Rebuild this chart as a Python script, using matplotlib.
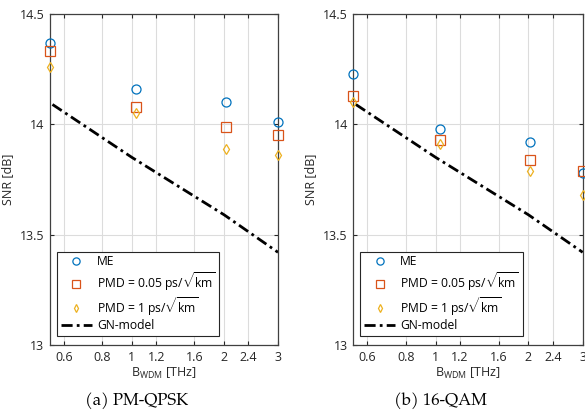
import matplotlib
matplotlib.use("Agg")
import matplotlib.pyplot as plt
from matplotlib.ticker import FixedLocator, NullLocator, FixedFormatter

plt.rcParams['font.family'] = ['Open Sans', 'DejaVu Sans']
plt.rcParams['mathtext.fontset'] = 'custom'
plt.rcParams['mathtext.rm'] = 'Open Sans'

# Data
x_bw = [0.54, 1.03, 2.03, 3.0]
qpsk_me = [14.37, 14.16, 14.10, 14.01]
qpsk_pmd005 = [14.33, 14.08, 13.99, 13.95]
qpsk_pmd1 = [14.26, 14.05, 13.89, 13.86]
qam_me = [14.23, 13.98, 13.92, 13.78]
qam_pmd005 = [14.13, 13.93, 13.84, 13.79]
qam_pmd1 = [14.10, 13.91, 13.79, 13.68]
gn_x = [0.55, 1.0, 2.0, 3.0]
gn_qpsk = [14.09, 13.85, 13.59, 13.42]
gn_qam = [14.09, 13.85, 13.59, 13.42]
xticks = [0.6, 0.8, 1, 1.2, 1.6, 2, 2.4, 3]
xticklabels = ['0.6', '0.8', '1', '1.2', '1.6', '2', '2.4', '3']
yticks = [13, 13.5, 14, 14.5]
yticklabels = ['13', '13.5', '14', '14.5']
captions = ['(a) PM-QPSK', '(b) 16-QAM']

c_me = '#0072BD'
c_sq = '#D95319'
c_di = '#EDB120'

fig = plt.figure(figsize=(5.85, 4.15), dpi=100)
ax1 = fig.add_axes([0.0855, 0.1687, 0.3897, 0.7976])
ax2 = fig.add_axes([0.604, 0.1687, 0.392, 0.7976])

panels = [(ax1, qpsk_me, qpsk_pmd005, qpsk_pmd1, gn_qpsk),
          (ax2, qam_me, qam_pmd005, qam_pmd1, gn_qam)]

for i, (ax, me, p005, p1, gn) in enumerate(panels):
    ax.set_xscale('log')
    ax.plot(x_bw, me, linestyle='none', marker='o', ms=6.5, mfc='none',
            mec=c_me, mew=0.9, label='ME', clip_on=False, zorder=4)
    ax.plot(x_bw, p005, linestyle='none', marker='s', ms=6.5, mfc='none',
            mec=c_sq, mew=0.9, label=r'PMD = 0.05 ps/$\sqrt{\mathrm{km}}$',
            clip_on=False, zorder=4)
    ax.plot(x_bw, p1, linestyle='none', marker='d', ms=5, mfc='none',
            mec=c_di, mew=0.9, label=r'PMD = 1 ps/$\sqrt{\mathrm{km}}$',
            clip_on=False, zorder=4)
    ax.plot(gn_x, gn, color='black', lw=2.0, linestyle=(0, (4, 1.5, 1, 1.5)),
            label='GN-model', zorder=3)
    ax.set_xlim(0.54, 3.0)
    ax.set_ylim(13, 14.5)
    ax.xaxis.set_major_locator(FixedLocator(xticks))
    ax.xaxis.set_major_formatter(FixedFormatter(xticklabels))
    ax.xaxis.set_minor_locator(NullLocator())
    ax.set_yticks(yticks)
    ax.set_yticklabels(yticklabels)
    ax.grid(True, color='#dcdcdc', lw=0.8)
    ax.set_axisbelow(True)
    for s in ax.spines.values():
        s.set_color('#404040')
        s.set_linewidth(0.9)
    ax.tick_params(direction='in', length=3, labelsize=9, colors='#262626',
                   top=True, right=True, pad=4)
    ax.set_xlabel(r'B$_{\mathrm{WDM}}$ [THz]', fontsize=9, color='#262626', labelpad=2)
    ax.set_ylabel('SNR [dB]', fontsize=9, color='#262626', labelpad=4)
    leg = ax.legend(loc='lower left', bbox_to_anchor=(0.02, 0.02), fontsize=8.7,
                    frameon=True, fancybox=False, edgecolor='#262626',
                    framealpha=1, handlelength=2.6, borderpad=0.3,
                    labelspacing=0.15, handletextpad=0.4, markerscale=0.8,
                    borderaxespad=0.2)
    leg.get_frame().set_linewidth(0.8)

fig.text(137 / 585, 1 - 401 / 415, captions[0], ha='center', va='center',
         fontsize=12, family=['TeX Gyre Pagella', 'Liberation Serif', 'DejaVu Serif'])
fig.text(440 / 585, 1 - 401 / 415, captions[1], ha='center', va='center',
         fontsize=12, family=['TeX Gyre Pagella', 'Liberation Serif', 'DejaVu Serif'])

fig.savefig('out.png', dpi=100)
